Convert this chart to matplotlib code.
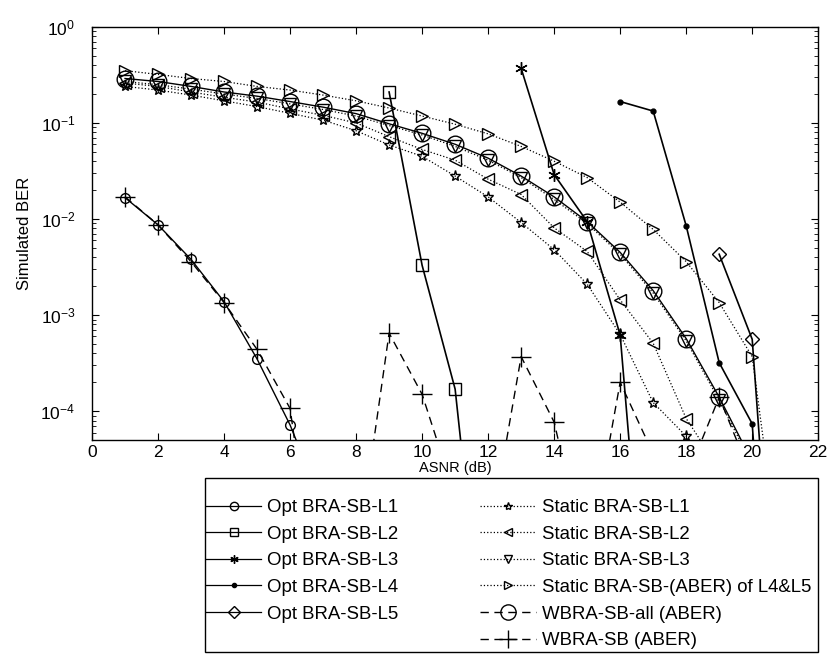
import matplotlib
matplotlib.use("Agg")
import matplotlib.pyplot as plt
from matplotlib.lines import Line2D
from matplotlib.patches import Rectangle
import numpy as np

plt.rcParams['font.family'] = ['Liberation Sans', 'DejaVu Sans']

# values (points outside the axes are rough guesses)
x_opt_l1 = [1, 2, 3, 4, 5, 6, 7]
ber_opt_l1 = [0.0167, 0.0087, 0.0038, 0.00138, 0.00035, 7.2e-5, 1e-5]

x_opt_l2 = [9, 10, 11, 12]
ber_opt_l2 = [0.21, 0.0033, 0.00017, 1.1e-7]

x_opt_l3 = [13, 14, 15, 16, 17]
ber_opt_l3 = [0.37, 0.029, 0.0094, 0.00062, 5e-8]

x_opt_l4 = [16, 17, 18, 19, 20, 21]
ber_opt_l4 = [0.167, 0.133, 0.0085, 0.00032, 7.4e-5, 1e-9]

x_opt_l5 = [19, 20, 21]
ber_opt_l5 = [0.0043, 0.00056, 1e-8]

x_st_l1 = list(range(1, 20))
ber_st_l1 = [0.24, 0.22, 0.195, 0.17, 0.148, 0.126, 0.107, 0.083, 0.059, 0.045,
             0.028, 0.017, 0.0092, 0.0048, 0.0021, 0.00063, 0.000123, 5.5e-5, 1.5e-5]

x_st_l2 = list(range(1, 20))
ber_st_l2 = [0.26, 0.24, 0.21, 0.185, 0.165, 0.14, 0.12, 0.10, 0.072, 0.053,
             0.041, 0.026, 0.018, 0.0081, 0.0046, 0.00144, 0.00051, 8.4e-5, 2.5e-5]

x_st_l3 = list(range(1, 21))
ber_st_l3 = [0.27, 0.25, 0.225, 0.20, 0.18, 0.158, 0.138, 0.118, 0.094, 0.075,
             0.057, 0.041, 0.027, 0.016, 0.009, 0.0043, 0.0017, 0.00054, 0.00013, 2.8e-5]

x_st_l45 = list(range(1, 22))
ber_st_l45 = [0.35, 0.32, 0.29, 0.27, 0.24, 0.22, 0.195, 0.17, 0.143, 0.118,
              0.097, 0.077, 0.057, 0.040, 0.027, 0.015, 0.0078, 0.0036, 0.00135,
              0.00037, 1e-6]

x_wb_all = list(range(1, 21))
ber_wb_all = [0.29, 0.27, 0.24, 0.21, 0.19, 0.167, 0.146, 0.125, 0.098, 0.078,
              0.060, 0.043, 0.028, 0.017, 0.0094, 0.0045, 0.0018, 0.00057, 0.00014, 3e-5]

x_wb = list(range(1, 21))
ber_wb = [0.017, 0.0087, 0.0036, 0.00135, 0.00044, 0.000107, 4e-7, 2.5e-6, 0.00065,
          0.00015, 1.3e-5, 4e-6, 0.00037, 7.7e-5, 2.5e-6, 0.0002, 3.6e-5, 2e-5,
          0.00014, 2e-5]

labels = ['Opt BRA-SB-L1', 'Opt BRA-SB-L2', 'Opt BRA-SB-L3', 'Opt BRA-SB-L4',
          'Opt BRA-SB-L5', 'Static BRA-SB-L1', 'Static BRA-SB-L2', 'Static BRA-SB-L3',
          'Static BRA-SB-(ABER) of L4&L5', 'WBRA-SB-all (ABER)', 'WBRA-SB (ABER)']

asterisk = (6, 2, 0)

fig = plt.figure(figsize=(8.29, 6.55), dpi=100)
ax = fig.add_axes([0.111, 0.328, 0.876, 0.631])

k = dict(color='k', mfc='none', mec='k')
h_st1, = ax.semilogy(x_st_l1, ber_st_l1, ':', marker='*', ms=8, lw=0.9, **k)
h_st2, = ax.semilogy(x_st_l2, ber_st_l2, ':', marker='<', ms=8, lw=0.9, **k)
h_st3, = ax.semilogy(x_st_l3, ber_st_l3, ':', marker='v', ms=8, lw=0.9, **k)
h_st45, = ax.semilogy(x_st_l45, ber_st_l45, ':', marker='>', ms=9, lw=0.9, **k)
h_wball, = ax.semilogy(x_wb_all, ber_wb_all, '-', marker='o', ms=12, lw=1.0, **k)
h_wb, = ax.semilogy(x_wb, ber_wb, '--', marker='+', ms=15, lw=1.0, dashes=(6, 4), color='k')
h1, = ax.semilogy(x_opt_l1, ber_opt_l1, '-', marker='o', ms=7, lw=1.0, **k)
h2, = ax.semilogy(x_opt_l2, ber_opt_l2, '-', marker='s', ms=8, lw=1.2, **k)
h3, = ax.semilogy(x_opt_l3, ber_opt_l3, '-', marker=asterisk, ms=9, lw=1.2, color='k')
h4, = ax.semilogy(x_opt_l4, ber_opt_l4, '-', marker='.', ms=7, lw=1.2, color='k')
h5, = ax.semilogy(x_opt_l5, ber_opt_l5, '-', marker='D', ms=7, lw=1.2, **k)

ax.set_xlim(0, 22)
ax.set_ylim(5e-5, 1)
ax.set_xticks(np.arange(0, 23, 2))
ax.tick_params(which='both', direction='in', top=True, right=True, labelsize=12.5)
ax.tick_params(axis='y', which='major', pad=12)
ax.tick_params(which='major', length=5)
ax.tick_params(which='minor', length=3)
ax.set_xlabel('ASNR (dB)', fontsize=10.5, labelpad=1)
ax.set_ylabel('Simulated BER', fontsize=12, labelpad=6)
for s in ax.spines.values():
    s.set_linewidth(1.0)

# legend: the all-layer curve is shown dashed in the key
leg_wball = Line2D([], [], ls='--', dashes=(6, 4), marker='o', ms=11, lw=1.0, **k)
blank = Line2D([], [], ls='none')
leg_h = [Line2D([], [], ls=h.get_linestyle(), marker=h.get_marker(), ms=6,
                lw=0.9, color='k', mfc='none' if h.get_marker() != '.' else 'k', mec='k')
         for h in [h1, h2, h3, h4, h5, h_st1, h_st2, h_st3, h_st45]]
leg_wb = Line2D([], [], ls='--', dashes=(6, 4), marker='+', ms=13, lw=1.0, color='k')
handles = leg_h[:5] + [blank] + leg_h[5:] + [leg_wball, leg_wb]
leg_labels = labels[:5] + [''] + labels[5:]
leg = fig.legend(handles, leg_labels, ncol=2, loc='upper left',
                 bbox_to_anchor=(0.248, 0.238), fontsize=13.4, handlelength=3.0,
                 labelspacing=0.515, columnspacing=4.4, handletextpad=0.3,
                 frameon=False, borderpad=0, borderaxespad=0)

# legend box
fig.patches.append(Rectangle((205 / 829, 3 / 655), 613 / 829, 174 / 655,
                             transform=fig.transFigure, fill=False,
                             edgecolor='k', lw=1.0, zorder=0))

fig.savefig('out.png', dpi=100)
